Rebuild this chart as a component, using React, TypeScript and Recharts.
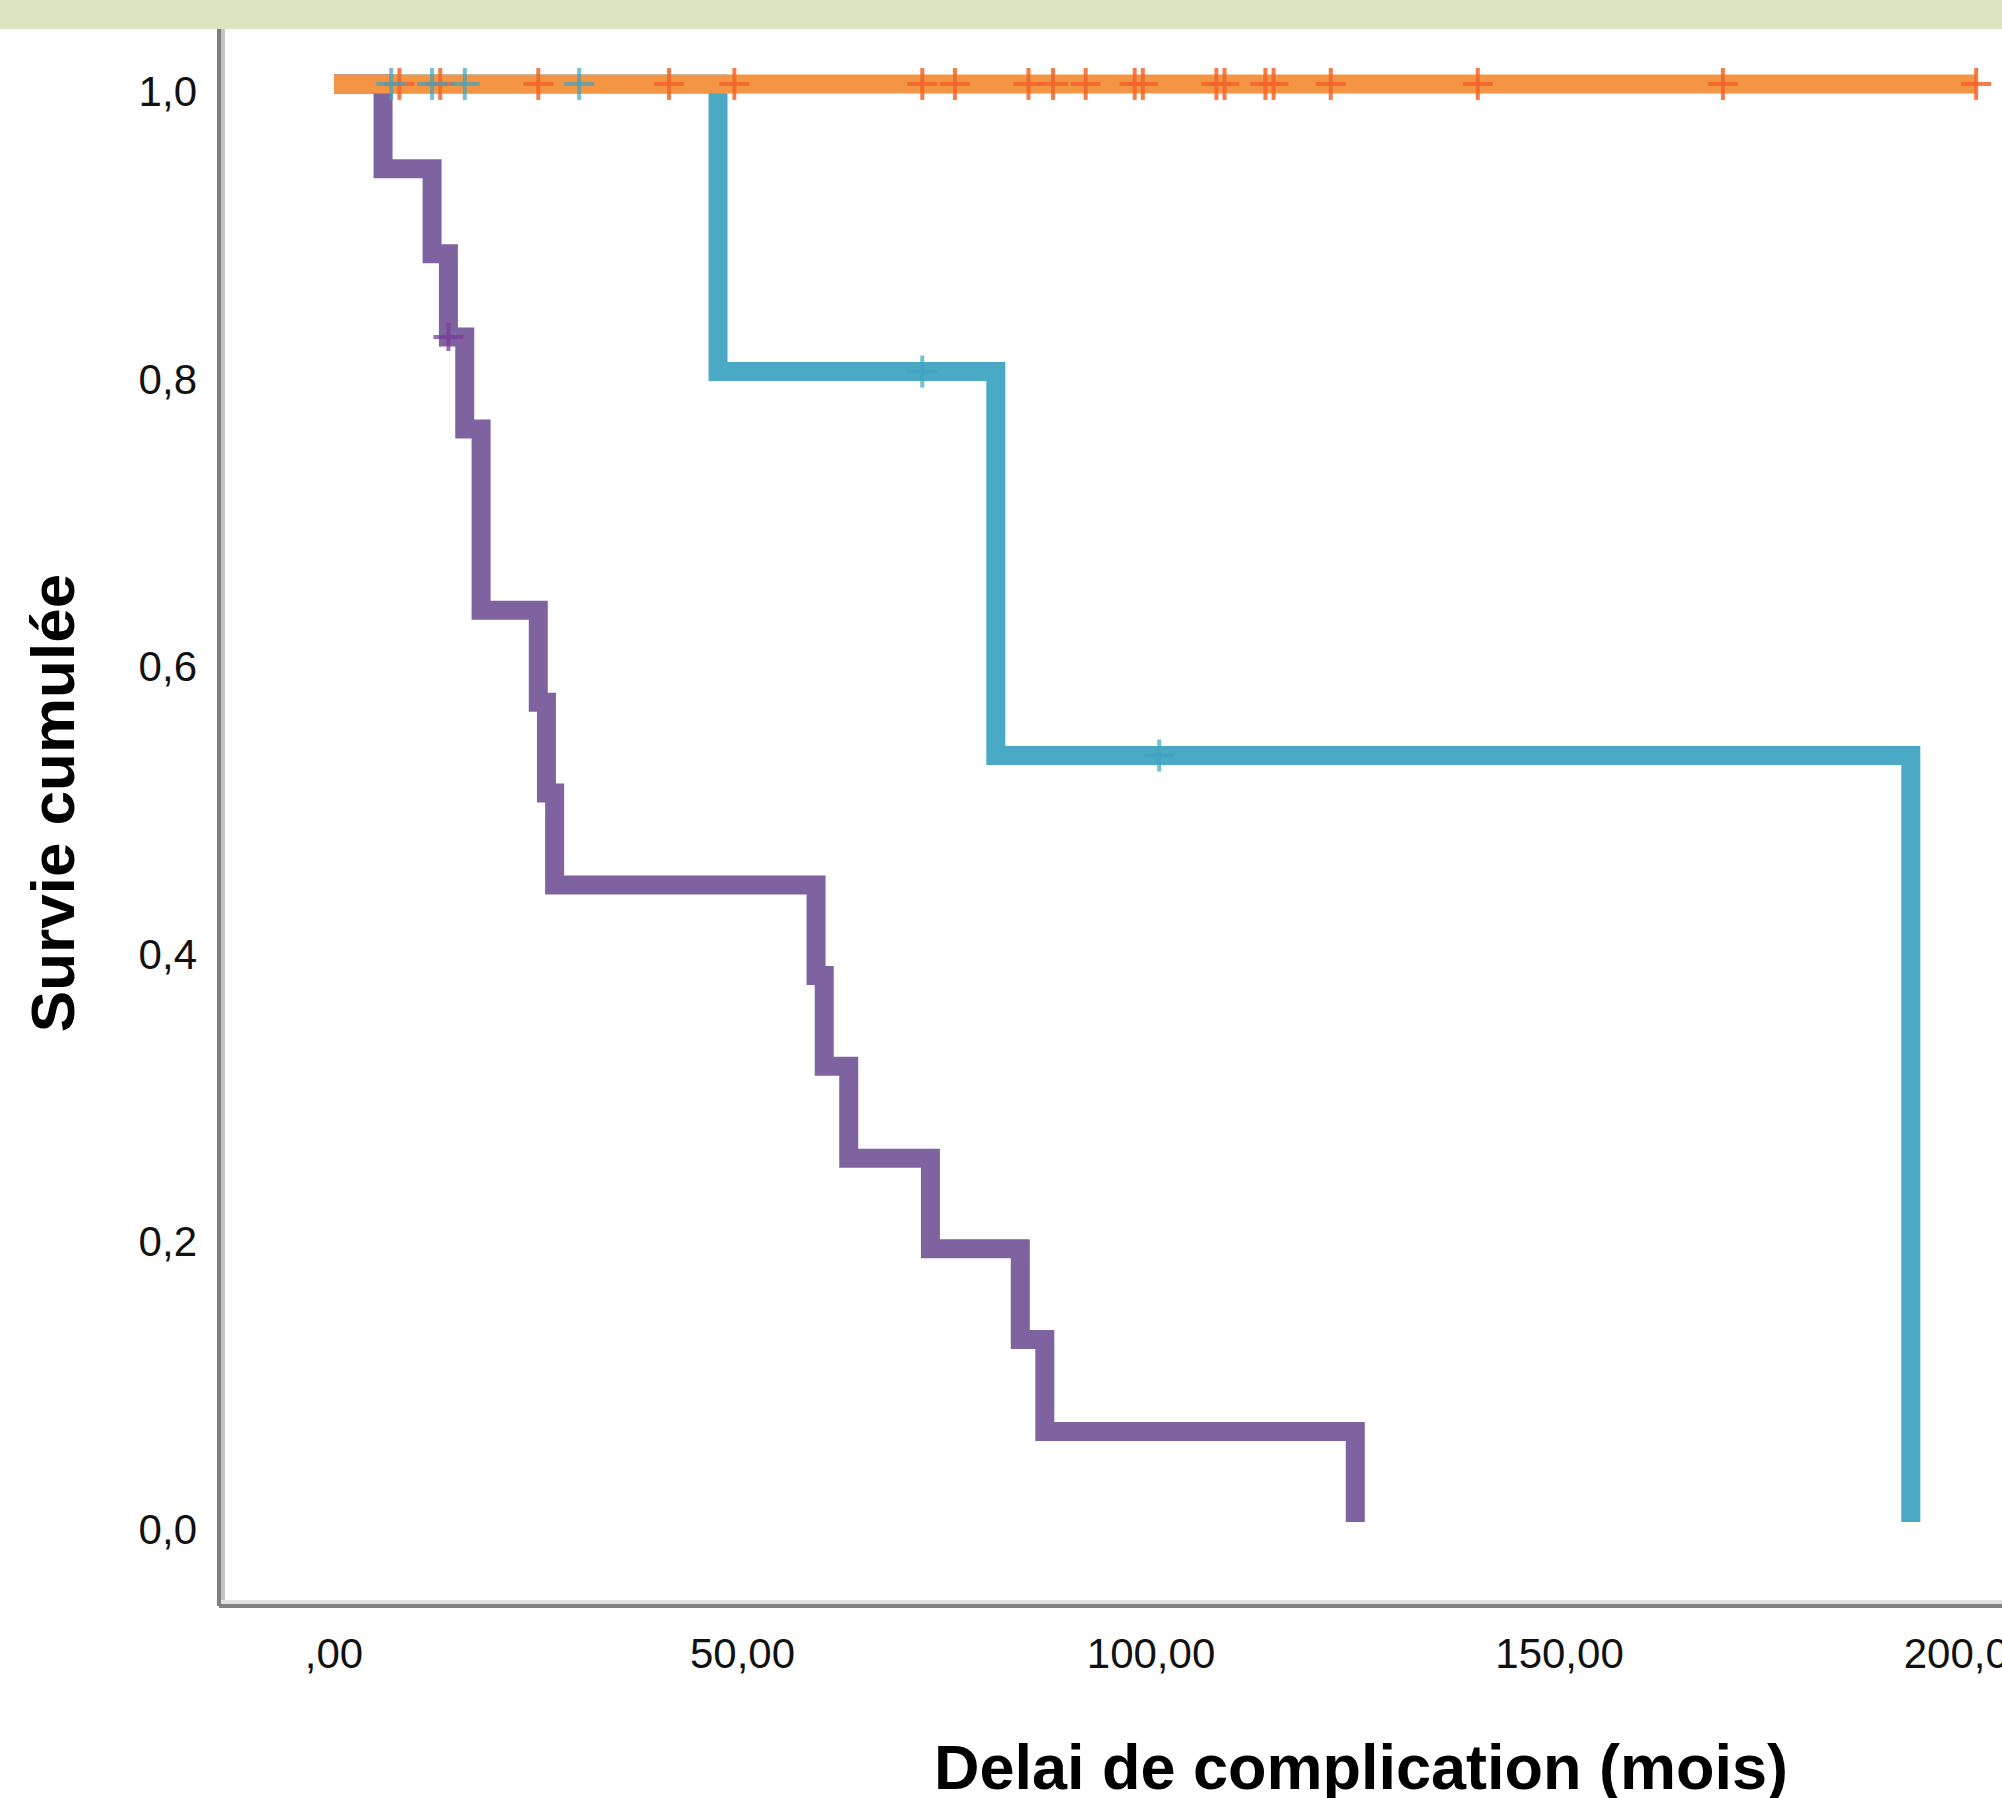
import { ComposedChart, Line, Scatter, XAxis, YAxis } from 'recharts';

// ── Data ───────────────────────────────────────────

const xTicks = [0, 50, 100, 150, 200];
const yTicks = [0, 0.2, 0.4, 0.6, 0.8, 1.0];

// violet group
const purpleTimes = [0, 6, 12, 14, 16, 18, 25, 26, 27, 59, 60, 63, 73, 84, 87, 125];
const purpleSurv = [1, 0.941, 0.882, 0.824, 0.76, 0.634, 0.57, 0.507, 0.443, 0.38, 0.317, 0.253, 0.19, 0.127, 0.063, 0];
const purpleCensTimes = [14];
const purpleCensSurv = [0.824];

// teal group
const tealTimes = [0, 47, 81, 193];
const tealSurv = [1, 0.8, 0.533, 0];
const tealCensTimes = [7, 12, 16, 30, 72, 101];
const tealCensSurv = [1, 1, 1, 1, 0.8, 0.533];

// orange group
const orangeTimes = [0, 201];
const orangeSurv = [1, 1];
const orangeCensTimes = [8, 13, 25, 41, 49, 72, 76, 85, 88, 92, 98, 99, 108, 109, 114, 115, 122, 140, 170, 201];
const orangeCensSurv = orangeCensTimes.map(() => 1);

const toPoints = (t: number[], s: number[]) => t.map((v, i) => ({ t: v, s: s[i] }));

// ── Styles ─────────────────────────────────────────

const FONT = '"Liberation Sans", Arial, sans-serif';
const PURPLE = '#7F63A0';
const TEAL = '#4AA9C4';
const ORANGE = '#F39545';
const LINE_W = 19;

const fmtX = (v: number) => (v === 0 ? ',00' : `${v},00`);
const fmtY = (v: number) => v.toFixed(1).replace('.', ',');

function XTick(props: any) {
  const { x, y, payload } = props;
  return (
    <text x={x} y={y + 62} textAnchor="middle" fontSize={42} fontFamily={FONT} fill="#111">
      {fmtX(payload.value)}
    </text>
  );
}

function YTick(props: any) {
  const { x, y, payload } = props;
  return (
    <text x={x - 22} y={y + 22} textAnchor="end" fontSize={42} fontFamily={FONT} fill="#111">
      {fmtY(payload.value)}
    </text>
  );
}

function makeCross(color: string, opacity: number, half = 16) {
  return (props: any) => {
    const { cx, cy } = props;
    if (cx == null || cy == null) return <g />;
    return (
      <g stroke={color} strokeWidth={4} strokeOpacity={opacity}>
        <line x1={cx} y1={cy - half} x2={cx} y2={cy + half} />
        <line x1={cx - 15} y1={cy} x2={cx + 15} y2={cy} />
      </g>
    );
  };
}

// ── Component ──────────────────────────────────────

export default function App() {
  return (
    <div
      style={{
        position: 'absolute',
        left: 0,
        top: 0,
        width: 2002,
        height: 1798,
        background: '#fff',
        overflow: 'hidden',
      }}
    >
      <div style={{ position: 'absolute', left: 0, top: 0, width: 2002, height: 29, background: '#DAE4C0' }} />
      <ComposedChart width={2002} height={1798} margin={{ top: 29, right: 0, bottom: 0, left: 0 }}>
        <XAxis
          dataKey="t"
          type="number"
          domain={[-14.08, 204.16]}
          ticks={xTicks}
          interval={0}
          allowDataOverflow
          height={192}
          tickSize={0}
          tickMargin={0}
          tickLine={false}
          tick={<XTick />}
          axisLine={{ stroke: '#808080', strokeWidth: 4 }}
          label={{
            content: () => (
              <text x={1361} y={1789} textAnchor="middle" fontSize={63} fontWeight="bold" fontFamily={FONT} fill="#000">
                Delai de complication (mois)
              </text>
            ),
          }}
        />
        <YAxis
          dataKey="s"
          type="number"
          domain={[-0.0584, 1.0382]}
          ticks={yTicks}
          interval={0}
          allowDataOverflow
          width={219}
          tickSize={0}
          tickMargin={0}
          tickLine={false}
          tick={<YTick />}
          axisLine={{ stroke: '#808080', strokeWidth: 4 }}
          label={{
            content: () => (
              <text
                x={74}
                y={803}
                transform="rotate(-90, 74, 803)"
                textAnchor="middle"
                fontSize={62}
                fontWeight="bold"
                fontFamily={FONT}
                fill="#000"
              >
                Survie cumulée
              </text>
            ),
          }}
        />
        <Line
          data={toPoints(tealTimes, tealSurv)}
          dataKey="s"
          type="stepAfter"
          stroke={TEAL}
          strokeWidth={LINE_W}
          strokeLinejoin="miter"
          dot={false}
          activeDot={false}
          isAnimationActive={false}
        />
        <Line
          data={toPoints(purpleTimes, purpleSurv)}
          dataKey="s"
          type="stepAfter"
          stroke={PURPLE}
          strokeWidth={LINE_W}
          strokeLinejoin="miter"
          dot={false}
          activeDot={false}
          isAnimationActive={false}
        />
        <Line
          data={toPoints(orangeTimes, orangeSurv)}
          dataKey="s"
          type="stepAfter"
          stroke={ORANGE}
          strokeWidth={LINE_W}
          strokeLinejoin="miter"
          dot={false}
          activeDot={false}
          isAnimationActive={false}
        />
        <Scatter
          data={toPoints(orangeCensTimes, orangeCensSurv)}
          dataKey="s"
          shape={makeCross('#F2652A', 0.85)}
          isAnimationActive={false}
        />
        <Scatter
          data={toPoints(tealCensTimes, tealCensSurv)}
          dataKey="s"
          shape={makeCross('#3FA3C0', 0.7)}
          isAnimationActive={false}
        />
        <Scatter
          data={toPoints(purpleCensTimes, purpleCensSurv)}
          dataKey="s"
          shape={makeCross('#7A3A9A', 0.75, 14)}
          isAnimationActive={false}
        />
      </ComposedChart>
      {/* light inner edge of the bevelled axes */}
      <div style={{ position: 'absolute', left: 221, top: 29, width: 4, height: 1575, background: '#C4C4C4' }} />
      <div style={{ position: 'absolute', left: 221, top: 1600, width: 1781, height: 4, background: '#E0E0E0' }} />
    </div>
  );
}
